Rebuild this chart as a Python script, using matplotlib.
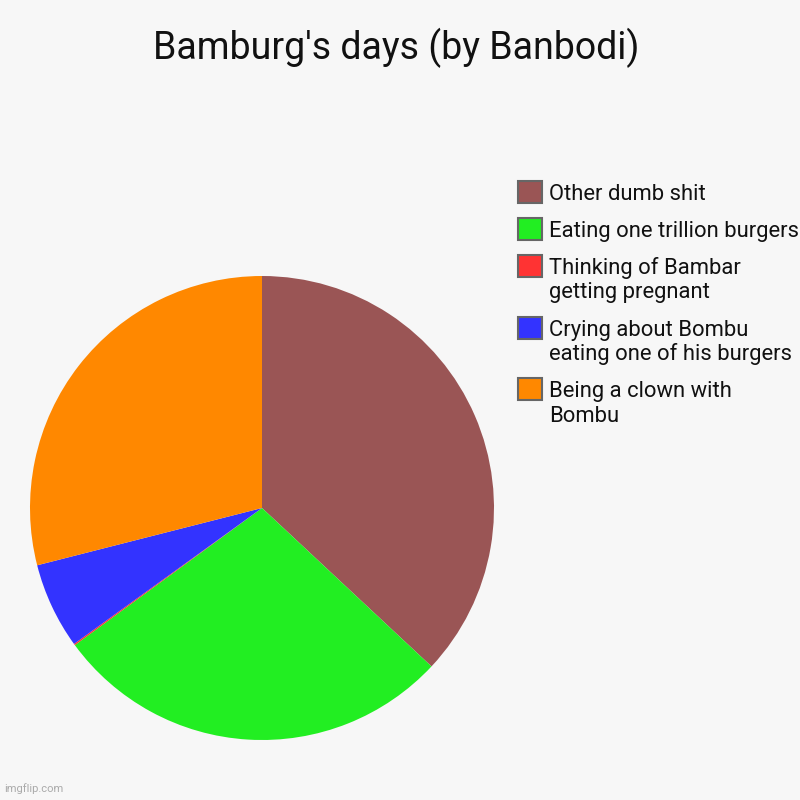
import matplotlib.pyplot as plt
from matplotlib.patches import Rectangle

plt.rcParams['font.family'] = ['Roboto', 'DejaVu Sans']

title = "Bamburg's days (by Banbodi)"
# slices, clockwise from 12 o'clock
labels = ['Other dumb shit',
          'Eating one trillion burgers',
          'Thinking of Bambar\ngetting pregnant',
          'Crying about Bombu\neating one of his burgers',
          'Being a clown with\nBombu']
values = [37, 28, 0.1, 6, 29]
colors = ['#9A5555', '#22EE22', '#FF3333', '#3333FF', '#FF8800']

W = 800.0
bg = '#F7F7F7'

fig = plt.figure(figsize=(8, 8), dpi=100, facecolor=bg)

# pie: centre (262, 508), radius 232 px
ax = fig.add_axes([30 / W, 60 / W, 464 / W, 464 / W])
ax.pie(values, colors=colors, startangle=90, counterclock=False,
       radius=1, wedgeprops=dict(linewidth=0))
ax.set_xlim(-1, 1)
ax.set_ylim(-1, 1)
ax.set_aspect('equal')
ax.axis('off')

fig.text(396 / W, 1 - 59 / W, title, fontsize=27, ha='center',
         va='baseline', color='#111111')

# legend drawn by hand
base = 200.0
for lab, col in zip(labels, colors):
    fig.patches.append(Rectangle((518 / W, 1 - (base + 3) / W), 24 / W, 22 / W,
                                 transform=fig.transFigure, facecolor=col,
                                 edgecolor='#666666', linewidth=1.5))
    lines = lab.split('\n')
    for i, ln in enumerate(lines):
        fig.text(549 / W, 1 - (base + 24.5 * i) / W, ln, fontsize=15.8,
                 ha='left', va='baseline', color='#111111')
    base += 37 + 24.5 * (len(lines) - 1)

fig.text(4 / W, 1 - 792 / W, 'imgflip.com', fontsize=8, color='#AAAAAA',
         ha='left', va='baseline')

fig.savefig('out.png', dpi=100, facecolor=bg)
